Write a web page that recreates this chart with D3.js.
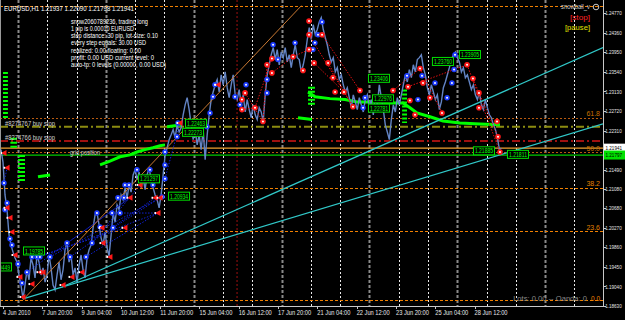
<!DOCTYPE html>
<html><head><meta charset="utf-8">
<script src="https://cdn.jsdelivr.net/npm/d3@7"></script>
<style>html,body{margin:0;padding:0;background:#000;overflow:hidden}svg{display:block}text{font-family:"Liberation Sans",Arial,sans-serif}</style>
</head><body><svg id="c" width="625" height="320"></svg>
<script>
// ---------------- DATA ----------------
const priceTickLabels = ['1.24770','1.24360','1.23950','1.23540','1.23130','1.22720','1.22310','1.21490','1.21080','1.20680','1.20270','1.19860','1.19450','1.19040','1.18630'];
const timeLabels = ['4 Jun 2010','7 Jun 20:00','9 Jun 04:00','10 Jun 12:00','11 Jun 20:00','15 Jun 04:00','16 Jun 12:00','17 Jun 20:00','21 Jun 04:00','22 Jun 12:00','23 Jun 20:00','25 Jun 04:00','28 Jun 12:00'];
const timeLabelHours = [0,32,64,96,128,160,192,224,256,288,320,352,384];

// H1 closes, sampled every closeStepHours starting at closeStartHour
const closeStartHour = -1.63, closeStepHours = 1.63;
const closes = [
1.2191,1.2165,1.2096,1.2065,1.2012,1.1991,1.1976,1.1964,1.1955,1.1928,1.1907,1.1878,
1.1907,1.1939,1.1918,1.1964,1.1949,1.1922,1.1970,1.1955,1.1928,1.1943,1.1913,1.1928,1.1970,1.1943,1.1907,1.1897,1.1928,1.1955,1.1918,1.1939,1.1981,1.1997,1.1955,1.1970,1.1928,1.1943,1.1913,1.1949,1.1970,1.1939,1.1922,1.1964,1.1981,1.1991,1.2027,1.2054,
1.2058,1.2033,1.2006,1.1991,1.2018,1.1985,1.1968,1.2012,1.2058,1.2039,1.2075,1.2065,1.2096,1.2086,1.2111,1.2090,1.2117,1.2102,1.2138,1.2149,
1.2128,1.2144,1.2111,1.2132,1.2107,1.2138,1.2153,1.2128,1.2111,1.2096,1.2086,1.2069,1.2096,1.2138,1.2180,1.2195,1.2212,1.2222,1.2233,1.2216,
1.2243,1.2228,1.2237,1.2264,1.2285,1.2300,1.2275,1.2243,1.2212,1.2233,1.2201,1.2222,1.2191,1.2233,1.2170,1.2222,1.2264,1.2296,1.2312,1.2327,
1.2338,1.2312,1.2348,1.2327,1.2354,1.2321,1.2300,1.2327,1.2348,1.2306,1.2296,1.2317,1.2285,1.2306,1.2270,1.2296,1.2275,1.2258,1.2285,1.2264,
1.2254,1.2279,1.2270,1.2250,1.2306,1.2348,1.2369,1.2390,1.2405,1.2380,1.2401,1.2369,1.2396,1.2384,1.2405,1.2375,1.2390,1.2363,1.2390,1.2411,
1.2384,1.2380,1.2354,1.2369,1.2390,1.2422,1.2447,1.2422,1.2453,1.2432,1.2443,1.2459,1.2468,1.2443,1.2426,1.2411,1.2390,1.2375,1.2384,1.2354,
1.2363,1.2338,1.2348,1.2327,1.2312,1.2321,1.2300,1.2279,1.2306,1.2291,1.2275,1.2300,1.2285,1.2270,1.2296,1.2306,1.2279,1.2296,1.2264,1.2306,
1.2285,1.2327,1.2300,1.2275,1.2243,1.2228,1.2212,1.2254,1.2285,1.2270,1.2300,1.2285,1.2306,1.2327,1.2348,1.2333,1.2359,1.2342,1.2369,1.2354,
1.2380,1.2384,1.2390,1.2363,1.2348,1.2321,1.2306,1.2327,1.2312,1.2296,1.2306,1.2275,1.2291,1.2321,1.2333,1.2348,1.2363,1.2380,1.2390,1.2396,
1.2384,1.2375,1.2354,1.2363,1.2342,1.2348,1.2333,1.2317,1.2327,1.2306,1.2296,1.2312,1.2285,1.2275,1.2296,1.2279,1.2264,1.2258,1.2243,1.2233,
1.2216,1.2191,1.2194];

const buyMarks = [[0.8,1.2121],[1.6,1.2065],[3.3,1.2079],[5.7,1.2004],[7.3,1.1991],[12.2,1.1951],[15.5,1.1911],[19.5,1.1934],[23.6,1.1966],[27.7,1.1966],[30.1,1.1966],[38.3,1.1966],[52.1,1.1995],[54.6,1.1966],[67.6,1.1966],[72.5,1.1995],[76.5,1.2058],[79,1.2029],[88.8,1.2058],[89.6,1.2027],[95.3,1.2058],[93.6,1.2090],[98.5,1.2090],[99.3,1.2117],[102.6,1.2117],[109.1,1.2149],[119.7,1.2149],[122.1,1.2117],[129.5,1.2092],[131.9,1.2130],[131.9,1.2159],[131.9,1.2186],[141.7,1.2218],[142.5,1.2247],[166.1,1.2239],[168.6,1.2268],[171,1.2302],[172.6,1.2327],[188.9,1.2302],[193,1.2285],[197.9,1.2327],[215,1.2310],[215,1.2338],[219.9,1.2411],[223.9,1.2380],[237.8,1.2415],[252.4,1.2401],[254,1.2415],[256.5,1.2432],[259.8,1.2459],[294.8,1.2300],[293.2,1.2279],[329,1.2346],[337.9,1.2296],[341.2,1.2346],[351.8,1.2331],[361.6,1.2300],[365.6,1.2331],[367.3,1.2359],[368.1,1.2390]];
const sellArrows = [[0.8,1.2184],[3.3,1.2153],[3.3,1.2069],[5.7,1.2048],[7.3,1.2018],[9.8,1.1970],[13.8,1.1924],[16.3,1.1882],[23.6,1.1909],[30.1,1.1934],[32.6,1.1934],[48.9,1.1907],[56.2,1.1924],[64.3,1.1934],[80.6,1.2027],[81.4,1.1995],[87.1,1.1966],[99.3,1.2027],[103.4,1.2090],[111.6,1.2117],[123.8,1.2090],[126.2,1.2058],[127.9,1.2090],[144.1,1.2247],[175.1,1.2327]];
const sellDots = [[194.6,1.2296],[197.1,1.2310],[194.6,1.2275],[205.2,1.2279],[211.7,1.2250],[215,1.2369],[219,1.2352],[219,1.2382],[236.2,1.2386],[244.3,1.2357],[249.2,1.2401],[249.2,1.2432],[249.2,1.2461],[259.8,1.2432],[253.3,1.2373],[264.7,1.2373],[268.7,1.2342],[270.4,1.2312],[277.7,1.2312],[285,1.2281],[290.7,1.2315],[317.6,1.2315],[329.8,1.2323],[331.4,1.2294],[335.5,1.2264],[339.6,1.2361],[342,1.2331],[347.7,1.2300],[357.5,1.2268],[377.9,1.2369],[382.7,1.2340],[387.6,1.2310],[387.6,1.2279],[402.3,1.2250],[403.1,1.2218],[404.7,1.2186]];

const buyTradeLines = [[[30.1,1.1966],[126.2,1.2058]],[[38.3,1.1966],[127.9,1.2090]],[[54.6,1.1966],[123.8,1.2090]],[[67.6,1.1966],[126.2,1.2058]],[[19.5,1.1934],[103.4,1.2090]],[[88.8,1.2058],[126.2,1.2058]],[[89.6,1.2027],[127.9,1.2090]],[[72.5,1.1995],[111.6,1.2117]],[[131.9,1.2130],[144.1,1.2247]],[[0.8,1.2121],[3.3,1.2153]],[[27.7,1.1966],[99.3,1.2027]],[[52.1,1.1995],[103.4,1.2090]]];
const sellTradeLines = [[[205.2,1.2279],[219,1.2382]],[[211.7,1.2250],[215,1.2369]],[[219,1.2352],[236.2,1.2386]],[[236.2,1.2386],[249.2,1.2401]],[[249.2,1.2432],[285,1.2281]],[[253.3,1.2373],[277.7,1.2312]],[[259.8,1.2432],[290.7,1.2315]],[[264.7,1.2373],[285,1.2281]],[[317.6,1.2315],[339.6,1.2361]],[[339.6,1.2361],[357.5,1.2268]],[[377.9,1.2369],[404.7,1.2186]],[[382.7,1.2340],[403.1,1.2218]],[[329.8,1.2323],[377.9,1.2369]],[[194.6,1.2275],[205.2,1.2279]],[[197.1,1.2310],[211.7,1.2250]]];

const gridPosA = [[28.5,1.2134],[38.3,1.2138]];
const gridPosB = [[79,1.2159],[87.1,1.2167],[95.3,1.2176],[103.4,1.2180],[109.1,1.2186],[115.6,1.2191],[122.1,1.2195],[127.9,1.2199],[131.9,1.2201]];
const gridPosC = [[133.6,1.2239],[145.8,1.2243]];
const gridPosD = [[240.2,1.2258],[251.6,1.2254]];
const gridPosE = [[248.4,1.2312],[254.1,1.2302],[266.3,1.2298],[278.5,1.2296],[288.3,1.2291],[302.9,1.2291],[315.1,1.2289],[325.7,1.2289],[331.4,1.2279],[337.1,1.2268],[347.7,1.2260],[358.3,1.2251],[372.1,1.2247],[388.4,1.2245],[404.7,1.2243]];
const greenStacks = [[0,4,1.2354,1.2254],[6,11.4,1.2216,1.2195],[12.2,17.9,1.2180,1.2121],[248.4,254,1.2323,1.2281],[325,329,1.2317,1.2247]];

const fibNames = ['100.0','61.8','50.0','38.2','23.6','0.0'];
const fibPrices = [1.2493,1.2258,1.2185,1.2111,1.2020,1.1876];
const orderNames = ['#8274767 buy stop','#8274766 buy stop'];
const orderPrices = [1.2239,1.2209];
const bidPrice = 1.21941, gridPrice = 1.21797;

const cyanLineA = [[16.3,1.1878],[488.6,1.2245]];
const cyanLineB = [[48.1,1.1903],[488.6,1.2405]];
const fibTrend = [[16.3,1.1876],[243,1.2493]];
const redVLineHour = 190.6;

const boxTexts = ['1.23406','1.22976','1.22781','1.23760','1.23905','1.21885','1.21811','1.22463','1.22273','1.20934','1.21297','1.19785','1.19449'];
const boxHours = [297.2,300.5,297.2,349.3,371.3,382.7,410.4,148.2,145.8,134.4,109.9,16.3,-10.6];

const infoLines = ['snow2060789236, trading long','1 pip is 0.00010 EURUSD','step distance: 30 pip, lot-size: 0.10','every step equals: 30.00 USD','realized: 0.00  floating: 0.00','profit: 0.00 USD  current level: 0','auto-tp: 0 levels (0.00000, 0.00 USD)'];
const infoWidths = [77,63,87,75,70,83,95];

// ---------------- DRAW ----------------
const W=625,H=320, PR=603, PB=306;
const svg = d3.select('#c');
svg.append('rect').attr('width',W).attr('height',H).attr('fill','#000');
const x = d3.scaleLinear().domain([0,488.6]).range([3,PR]);
const y = d3.scaleLinear().domain([1.18630,1.24770]).range([PB,13.3]);

svg.append('clipPath').attr('id','pc').append('rect').attr('x',0).attr('y',0).attr('width',PR).attr('height',PB);
const g = svg.append('g').attr('clip-path','url(#pc)');

function txt(par,xx,yy,s,size,color,w,anchor){
  const t=par.append('text').attr('x',xx).attr('y',yy).text(s).attr('font-size',size).attr('fill',color);
  if(anchor) t.attr('text-anchor',anchor);
  if(w) t.attr('textLength',w).attr('lengthAdjust','spacingAndGlyphs');
  return t;
}

// vertical grid (daily)
d3.range(12.2,488,23.85).forEach((h,i)=>{
  const grey = i%3===0;
  g.append('line').attr('x1',Math.round(x(h))+0.5).attr('x2',Math.round(x(h))+0.5).attr('y1',0).attr('y2',PB)
   .attr('stroke',grey?'#8a8a8a':'#e8e8e8').attr('stroke-width',grey?2:1).attr('stroke-dasharray',grey?'3,2':'2,2');
});
g.append('line').attr('x1',x(redVLineHour)).attr('x2',x(redVLineHour)).attr('y1',0).attr('y2',PB)
  .attr('stroke','#a01010').attr('stroke-width',1).attr('stroke-dasharray','2,2');

// fib levels
fibPrices.forEach((p,i)=>{
  const inner = (i===1||i===2);
  g.append('line').attr('x1',0).attr('x2',PR).attr('y1',Math.round(y(p))+0.5).attr('y2',Math.round(y(p))+0.5)
   .attr('stroke',inner?'#b85a10':'#f08000').attr('stroke-width',1).attr('stroke-dasharray',inner?'2,2':'3,2');
});
// order lines
const orderCols=['#8c8c10','#a01010'];
orderPrices.forEach((p,i)=>{
  g.append('line').attr('x1',0).attr('x2',PR).attr('y1',y(p)).attr('y2',y(p))
   .attr('stroke',orderCols[i]).attr('stroke-width',2).attr('stroke-dasharray','8,3,2,3');
});
g.append('line').attr('x1',0).attr('x2',PR).attr('y1',y(bidPrice)).attr('y2',y(bidPrice)).attr('stroke','#f0a030').attr('stroke-width',1.3);
g.append('line').attr('x1',0).attr('x2',PR).attr('y1',y(gridPrice)).attr('y2',y(gridPrice)).attr('stroke','#00c800').attr('stroke-width',1.3);

// green grid-position indicator
const gl = d3.line().x(d=>x(d[0])).y(d=>y(d[1]));
[gridPosA,gridPosB,gridPosC,gridPosD,gridPosE].forEach(s=>{
  g.append('path').attr('d',gl(s)).attr('fill','none').attr('stroke','#00ff00').attr('stroke-width',3);
});
greenStacks.forEach(s=>{
  const xm=(x(s[0])+x(s[1]))/2, w=x(s[1])-x(s[0]);
  g.append('line').attr('x1',xm).attr('x2',xm).attr('y1',y(s[2])).attr('y2',y(s[3]))
   .attr('stroke','#00ff00').attr('stroke-width',w).attr('stroke-dasharray','2,2');
});

// price line
const pts = closes.map((c,k)=>[closeStartHour+k*closeStepHours,c]);
g.append('path').attr('d',gl(pts)).attr('fill','none').attr('stroke','#6384c4').attr('stroke-width',1.4);

// trade lines
buyTradeLines.forEach(s=>g.append('path').attr('d',gl(s)).attr('fill','none').attr('stroke','#1020d0').attr('stroke-width',1).attr('stroke-dasharray','1.5,1.5'));
sellTradeLines.forEach(s=>g.append('path').attr('d',gl(s)).attr('fill','none').attr('stroke','#e01010').attr('stroke-width',1).attr('stroke-dasharray','1.5,1.5'));

// cyan trend lines & fib trend
[cyanLineA,cyanLineB].forEach(s=>g.append('path').attr('d',gl(s)).attr('fill','none').attr('stroke','#30c8c8').attr('stroke-width',1.2));
g.append('path').attr('d',gl(fibTrend)).attr('fill','none').attr('stroke','#c87832').attr('stroke-width',1);

// markers
buyMarks.forEach(d=>{
  g.append('circle').attr('cx',x(d[0])).attr('cy',y(d[1])).attr('r',2.7).attr('fill','#1c3cff');
  g.append('circle').attr('cx',x(d[0])).attr('cy',y(d[1])).attr('r',1).attr('fill','#ffffff');
});
sellArrows.forEach(d=>{
  const cx=x(d[0]), cy=y(d[1]);
  g.append('path').attr('d',`M${cx-3},${cy}L${cx+2.5},${cy-3}L${cx+2.5},${cy+3}Z`).attr('fill','#ff1818');
  g.append('rect').attr('x',cx-3.5).attr('y',cy-1).attr('width',1.6).attr('height',2).attr('fill','#fff');
});
sellDots.forEach(d=>{
  g.append('circle').attr('cx',x(d[0])).attr('cy',y(d[1])).attr('r',2.8).attr('fill','#ff1818');
  g.append('circle').attr('cx',x(d[0])).attr('cy',y(d[1])).attr('r',1).attr('fill','#ffffff');
});

// green level boxes
boxTexts.forEach((t,i)=>{
  const bx=x(boxHours[i]), by=y(+t);
  g.append('rect').attr('x',bx+0.5).attr('y',by-4).attr('width',21).attr('height',8).attr('fill','#000').attr('stroke','#00e000').attr('stroke-width',1);
  txt(g,bx+2,by+2.6,t,7,'#00ff00',18);
});

// in-chart text
txt(g,4,10.5,'EURUSD,H1  1.21937 1.22090 1.21798 1.21941',7.5,'#ffffff',130);
infoLines.forEach((s,i)=>txt(g,71,23.5+i*7.3,s,6.5,'#ffffff',infoWidths[i]));
txt(g,5,126,orderNames[0],6.8,'#d0d0d0',50);
txt(g,5,139.5,orderNames[1],6.8,'#d0d0d0',50);
txt(g,70,154.5,'grid position',6.8,'#d0d0d0',30);
const fibCol=['#f08000','#c87000','#c87000','#e08000','#e08000','#f08000'];
fibPrices.forEach((p,i)=>{ if(i>0 && i<5) txt(g,600,y(p)-1.5,fibNames[i],7,fibCol[i],null,'end'); });
txt(g,587,300.5,'Lots: 0.00 -- Oanda: 0',7.6,'#8a8a8a',null,'end');
txt(g,591,300.5,fibNames[5],6.5,'#f08000',null,'start');
txt(g,561,9,'snowball_v',6.8,'#c8c8c8',29);
g.append('circle').attr('cx',596).attr('cy',7).attr('r',2.8).attr('fill','none').attr('stroke','#c8c8c8').attr('stroke-width',1);
txt(g,590,19.5,'[stop]',8,'#ff2020',20,'end');
txt(g,590,30,'[pause]',8,'#e0e000',25,'end');

// axes
svg.append('line').attr('x1',PR+0.5).attr('x2',PR+0.5).attr('y1',0).attr('y2',PB+1).attr('stroke','#c8c8c8');
svg.append('line').attr('x1',0).attr('x2',PR+1).attr('y1',PB+0.5).attr('y2',PB+0.5).attr('stroke','#c8c8c8');
svg.append('line').attr('x1',0.5).attr('x2',0.5).attr('y1',0).attr('y2',PB).attr('stroke','#9a9a9a');
priceTickLabels.forEach(s=>{
  const yy=y(+s);
  svg.append('line').attr('x1',PR).attr('x2',PR+3).attr('y1',Math.round(yy)+0.5).attr('y2',Math.round(yy)+0.5).attr('stroke','#c8c8c8');
  txt(svg,605.2,yy+2.1,s,5.4,'#e8e8e8',16.5);
});
timeLabels.forEach((s,i)=>{
  const xx=x(timeLabelHours[i]);
  svg.append('line').attr('x1',Math.round(xx)+0.5).attr('x2',Math.round(xx)+0.5).attr('y1',PB).attr('y2',PB+3).attr('stroke','#c8c8c8');
  txt(svg,xx,314.5,s,6.5,'#e8e8e8',s.length*2.75);
});
// current price boxes
svg.append('rect').attr('x',PR+1).attr('y',y(bidPrice)-4.5).attr('width',21).attr('height',9).attr('fill','#ffffff');
txt(svg,PR+2.5,y(bidPrice)+2.2,'1.21941',5.4,'#000',16.5);
svg.append('rect').attr('x',PR+1).attr('y',y(gridPrice)-4.5).attr('width',21).attr('height',9).attr('fill','#00e000');
txt(svg,PR+2.5,y(gridPrice)+2.2,'1.21797',5.4,'#000',16.5);
</script></body></html>
